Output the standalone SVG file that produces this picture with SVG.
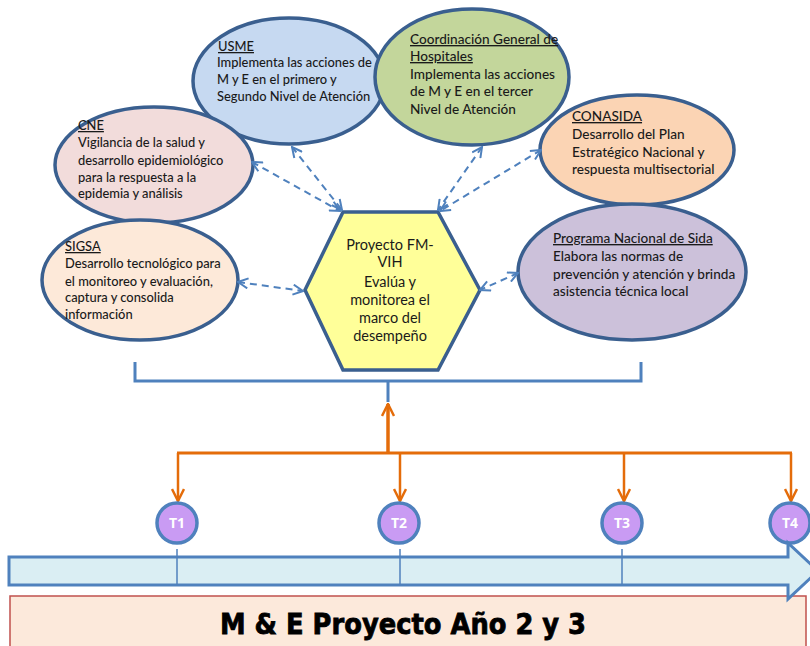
<svg xmlns="http://www.w3.org/2000/svg" width="810" height="646" viewBox="0 0 810 646">
<style>
.ell{stroke:#3A5F8F;stroke-width:3.5}
.t{font-family:"Lato","Liberation Sans",sans-serif;font-size:12.9px;fill:#1a1a1a;font-weight:500}
.t13{font-family:"Lato","Liberation Sans",sans-serif;font-size:13.6px;fill:#1a1a1a;font-weight:500}
.u{text-decoration:underline}
.hx{font-family:"Lato","Liberation Sans",sans-serif;font-size:14.5px;fill:#1a1a1a;text-anchor:middle}
.dash{stroke:#4F81BD;stroke-width:2;stroke-dasharray:7,5;fill:none;marker-start:url(#ob);marker-end:url(#ob)}
.or{stroke:#E46C0A;fill:none}
.tc{fill:#C99BF3;stroke:#4F81BD;stroke-width:3.5}
.tt{font-family:"Open Sans","Liberation Sans",sans-serif;font-size:14px;font-weight:bold;fill:#fff;text-anchor:middle}
</style>
<defs>
<marker id="ob" viewBox="0 0 12 12" refX="11" refY="6" markerWidth="12" markerHeight="12" markerUnits="userSpaceOnUse" orient="auto-start-reverse">
<path d="M1,1 L11,6 L1,11" fill="none" stroke="#4F81BD" stroke-width="2"/>
</marker>
<marker id="oo" viewBox="0 0 14 14" refX="13" refY="7" markerWidth="14" markerHeight="14" markerUnits="userSpaceOnUse" orient="auto">
<path d="M1,1 L13,7 L1,13" fill="none" stroke="#E46C0A" stroke-width="2.5"/>
</marker>
</defs>
<rect width="810" height="646" fill="#fff"/>

<g id="usme">
<ellipse class="ell" cx="289" cy="81" rx="96" ry="63" fill="#C6D9F1"/>
<text class="t u" x="218" y="51">USME</text>
<text class="t" x="217" y="67">Implementa las acciones de</text>
<text class="t" x="217" y="84">M y E en el primero  y</text>
<text class="t" x="217" y="101">Segundo Nivel de Atención</text>
</g>

<g id="coordinacion">
<ellipse class="ell" cx="472" cy="77" rx="97" ry="68" fill="#C3D69B"/>
<text class="t13 u" x="410" y="44">Coordinación General de</text>
<text class="t13 u" x="410" y="61">Hospitales</text>
<text class="t13" x="410" y="79">Implementa las acciones</text>
<text class="t13" x="410" y="96">de M y E en el tercer</text>
<text class="t13" x="410" y="114">Nivel de Atención</text>
</g>

<g id="cne">
<ellipse class="ell" cx="154" cy="165" rx="99" ry="58" fill="#F2DCDB"/>
<text class="t u" x="78" y="130">CNE</text>
<text class="t" x="78" y="147">Vigilancia de la salud  y</text>
<text class="t" x="78" y="165">desarrollo epidemiológico</text>
<text class="t" x="78" y="182">para la respuesta  a la</text>
<text class="t" x="78" y="198">epidemia y análisis</text>
</g>

<g id="sigsa">
<ellipse class="ell" cx="140" cy="280" rx="98" ry="60" fill="#FDE9D9"/>
<text class="t u" x="65" y="251">SIGSA</text>
<text class="t" x="65" y="268">Desarrollo tecnológico para</text>
<text class="t" x="65" y="286">el monitoreo  y evaluación,</text>
<text class="t" x="65" y="302">captura   y consolida</text>
<text class="t" x="65" y="319">información</text>
</g>

<g id="conasida">
<ellipse class="ell" cx="637" cy="150" rx="97" ry="55" fill="#FBD4B4"/>
<text class="t13 u" x="572" y="121">CONASIDA</text>
<text class="t13" x="572" y="139">Desarrollo del Plan</text>
<text class="t13" x="572" y="157">Estratégico Nacional y</text>
<text class="t13" x="572" y="174">respuesta multisectorial</text>
</g>

<g id="programa">
<ellipse class="ell" cx="632" cy="272" rx="114" ry="68" fill="#CCC1DA"/>
<text class="t13 u" x="553" y="243">Programa Nacional de Sida</text>
<text class="t13" x="553" y="261">Elabora las normas de</text>
<text class="t13" x="553" y="279">prevención y atención y brinda</text>
<text class="t13" x="553" y="296">asistencia técnica local</text>
</g>

<g id="proyecto">
<polygon points="343,212 438,212 480,290 438,370 343,370 305,290" fill="#FFFF99" stroke="#3A5F8F" stroke-width="3.5"/>
<text class="hx" x="390" y="250">Proyecto FM-</text>
<text class="hx" x="390" y="267">VIH</text>
<text class="hx" x="390" y="287">Evalúa y</text>
<text class="hx" x="390" y="305">monitorea el</text>
<text class="hx" x="390" y="323">marco del</text>
<text class="hx" x="390" y="341">desempeño</text>
</g>

<g id="connectors">
<line class="dash" x1="252" y1="162" x2="340" y2="211"/>
<line class="dash" x1="292" y1="147" x2="342" y2="210"/>
<line class="dash" x1="482" y1="147" x2="438" y2="210"/>
<line class="dash" x1="541" y1="150" x2="440" y2="211"/>
<line class="dash" x1="238" y1="282" x2="303" y2="291"/>
<line class="dash" x1="518" y1="273" x2="480" y2="290"/>
<path d="M135,362 V381 H641 V362" fill="none" stroke="#4F81BD" stroke-width="3"/>
<line x1="388" y1="381" x2="388" y2="402" stroke="#4F81BD" stroke-width="3"/>
<line class="or" x1="388" y1="452" x2="388" y2="404" stroke-width="3.5" marker-end="url(#oo)"/>
<line class="or" x1="177" y1="453" x2="792" y2="453" stroke-width="3"/>
<line class="or" x1="178" y1="453" x2="178" y2="501" stroke-width="2.5" marker-end="url(#oo)"/>
<line class="or" x1="400" y1="453" x2="400" y2="501" stroke-width="2.5" marker-end="url(#oo)"/>
<line class="or" x1="624" y1="453" x2="624" y2="501" stroke-width="2.5" marker-end="url(#oo)"/>
<line class="or" x1="791" y1="453" x2="791" y2="501" stroke-width="2.5" marker-end="url(#oo)"/>
</g>

<g id="T1"><circle class="tc" cx="177" cy="523" r="20"/><text class="tt" x="177" y="528">T1</text></g>
<g id="T2"><circle class="tc" cx="399" cy="523" r="20"/><text class="tt" x="399" y="528">T2</text></g>
<g id="T3"><circle class="tc" cx="622" cy="523" r="20"/><text class="tt" x="622" y="528">T3</text></g>
<g id="T4"><circle class="tc" cx="790" cy="523" r="20"/><text class="tt" x="790" y="528">T4</text></g>

<g id="titulo">
<rect x="10" y="596" width="796" height="60" fill="#FCE9DB" stroke="#C0504D" stroke-width="1.5"/>
<text x="403" y="634" font-family="DejaVu Sans, sans-serif" font-weight="bold" font-size="28" text-anchor="middle" textLength="366" lengthAdjust="spacingAndGlyphs" fill="#000" stroke="#000" stroke-width="0.8">M &amp; E Proyecto Año 2 y 3</text>
</g>

<g id="timeline">
<path d="M9,557 H788 V543 L818,571 L788,599 V585 H9 Z" fill="#DAEEF3" stroke="#4F81BD" stroke-width="3" stroke-linejoin="miter"/>
<line x1="177" y1="549" x2="177" y2="585" stroke="#4F81BD" stroke-width="1.5"/>
<line x1="400" y1="549" x2="400" y2="585" stroke="#4F81BD" stroke-width="1.5"/>
<line x1="622" y1="549" x2="622" y2="584" stroke="#4F81BD" stroke-width="1.5"/>
</g>
</svg>
